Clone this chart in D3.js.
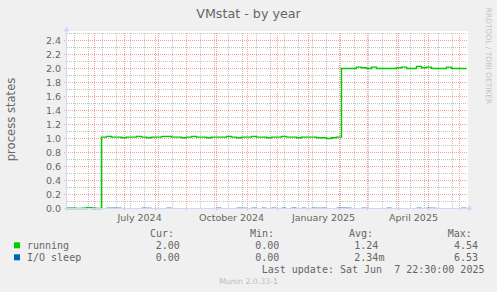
<!DOCTYPE html>
<html>
<head>
<meta charset="utf-8">
<script src="https://cdn.jsdelivr.net/npm/d3@7"></script>
<style>
  body { margin: 0; background: #f0f0f0; }
  svg { display: block; }
  text { font-family: "DejaVu Sans", sans-serif; fill: #666; }
  .mono { font-family: "DejaVu Sans Mono", monospace; font-size: 10px; }
</style>
</head>
<body>
<svg></svg>
<script>
// time range of the yearly graph (400 days up to last update)
const startDate = new Date(Date.UTC(2024, 4, 3, 22, 30));
const endDate = new Date(Date.UTC(2025, 5, 7, 22, 30));
const stepDays = 5;

// running processes, one value every 5 days
const running = [
  0, 0, 0, 0, 0.01, 0, 0,
  1.02, 1.03, 1.02, 1.02, 1.01, 1.02, 1.02, 1.03, 1.02, 1.01,
  1.02, 1.02, 1.03, 1.03, 1.02, 1.02, 1.01, 1.02, 1.03, 1.02,
  1.02, 1.01, 1.02, 1.02, 1.02, 1.03, 1.02, 1.01, 1.02, 1.02,
  1.03, 1.02, 1.02, 1.01, 1.02, 1.02, 1.03, 1.02, 1.02, 1.01,
  1.02, 1.02, 1.02, 1.01, 1.01, 1.00, 1.01, 1.02,
  2.00, 2.00, 2.00, 2.02, 2.01, 2.00, 2.02, 2.00, 2.00, 2.00,
  2.00, 2.01, 2.02, 2.00, 2.00, 2.03, 2.01, 2.02, 2.00, 2.00,
  2.00, 2.02, 2.00, 2.00, 2.00
];

// processes in I/O sleep, same 5-day steps
const ioSleep = [
  0.005, 0.005, 0, 0.004, 0, 0.005, 0, 0, 0.005, 0.006,
  0.005, 0, 0, 0, 0, 0.005, 0.004, 0, 0, 0,
  0.005, 0, 0, 0, 0, 0, 0, 0, 0, 0,
  0.005, 0, 0, 0, 0.005, 0.004, 0, 0.005, 0, 0.005,
  0, 0.005, 0, 0.005, 0, 0.0065, 0, 0.005, 0, 0.005,
  0.004, 0.005, 0, 0, 0.005, 0.006, 0.005, 0, 0, 0.005,
  0, 0, 0, 0, 0.005, 0, 0, 0, 0, 0,
  0.005, 0, 0.005, 0.004, 0, 0, 0, 0, 0, 0.005
];

const yTicks = [0, 0.2, 0.4, 0.6, 0.8, 1.0, 1.2, 1.4, 1.6, 1.8, 2.0, 2.2, 2.4];
const yMinor = [0.1, 0.3, 0.5, 0.7, 0.9, 1.1, 1.3, 1.5, 1.7, 1.9, 2.1, 2.3, 2.5];
const xLabelMonths = ["2024-07-01", "2024-10-01", "2025-01-01", "2025-04-01"];
const xLabels = ["July 2024", "October 2024", "January 2025", "April 2025"];
const firstMinor = "2024-05-12";

const seriesNames = ["running", "I/O sleep"];
const seriesColors = ["#00cc00", "#0066b3"];
const curVals = ["2.00", "0.00"];
const minVals = ["0.00", "0.00"];
const avgVals = ["1.24", "2.34m"];
const maxVals = ["4.54", "6.53"];

const W = 497, H = 292;
const svg = d3.select("svg").attr("width", W).attr("height", H);

const x = d3.scaleUtc().domain([startDate, endDate]).range([66.5, 466.5]);
const y = d3.scaleLinear().domain([0, 2.5]).range([208.5, 33.5]);
const px = v => Math.round(v - 0.5) + 0.5;

// canvas
svg.append("rect").attr("x", 66).attr("y", 31).attr("width", 402).attr("height", 178).attr("fill", "#fff");

// minor grid
const minorDates = d3.utcDay.range(new Date(firstMinor), endDate, 14);
svg.append("g").selectAll("line").data(minorDates).join("line")
  .attr("x1", d => px(x(d))).attr("x2", d => px(x(d)))
  .attr("y1", 33).attr("y2", 208)
  .attr("stroke", "#c4c4c4").attr("stroke-dasharray", "1,1");
svg.append("g").selectAll("line").data(yMinor).join("line")
  .attr("x1", 67).attr("x2", 467)
  .attr("y1", d => px(y(d))).attr("y2", d => px(y(d)))
  .attr("stroke", "#c4c4c4").attr("stroke-dasharray", "1,1");

// major grid
const monthDates = d3.utcMonth.range(startDate, endDate);
svg.append("g").selectAll("line").data(monthDates).join("line")
  .attr("x1", d => px(x(d))).attr("x2", d => px(x(d)))
  .attr("y1", 33).attr("y2", 211)
  .attr("stroke", "#f6a0a0").attr("stroke-dasharray", "1,1");
svg.append("g").selectAll("line").data(yTicks.slice(1)).join("line")
  .attr("x1", 64).attr("x2", 467)
  .attr("y1", d => px(y(d))).attr("y2", d => px(y(d)))
  .attr("stroke", "#f6a0a0").attr("stroke-dasharray", "1,1");

// series
const toPoints = vals => vals.map((v, i) => [d3.utcDay.offset(startDate, i * stepDays), v]).concat([[endDate, vals[vals.length - 1]]]);
const line = d3.line().x(d => x(d[0])).y(d => y(d[1])).curve(d3.curveStepAfter);

[running, ioSleep].forEach((vals, i) => {
  svg.append("path")
    .attr("d", line(toPoints(vals)))
    .attr("fill", "none")
    .attr("stroke", seriesColors[i])
    .attr("stroke-width", i === 0 ? 1.4 : 1);
});

// axes with arrows
const axisCol = "#cfd6f8";
svg.append("line").attr("x1", 66.5).attr("x2", 66.5).attr("y1", 31).attr("y2", 211).attr("stroke", axisCol);
svg.append("line").attr("x1", 64).attr("x2", 469).attr("y1", 208.5).attr("y2", 208.5).attr("stroke", axisCol);
svg.append("path").attr("d", "M63.5,31.5L69.5,31.5L66.5,26.5Z").attr("fill", axisCol);
svg.append("path").attr("d", "M468,205.5L468,211.5L473,208.5Z").attr("fill", axisCol);

// y tick labels
svg.append("g").selectAll("text").data(yTicks).join("text")
  .attr("x", 61).attr("y", d => y(d) + 3.5)
  .attr("text-anchor", "end").style("font-size", "9.5px")
  .text(d3.format(".1f"));

// x labels, centred half a month after the tick
svg.append("g").selectAll("text").data(xLabelMonths).join("text")
  .attr("x", d => x(d3.utcDay.offset(new Date(d), 15)))
  .attr("y", 220.5)
  .attr("text-anchor", "middle").style("font-size", "9.5px")
  .text((d, i) => xLabels[i]);

// title and axis label
svg.append("text").attr("x", 248.5).attr("y", 18).attr("text-anchor", "middle")
  .style("font-size", "12.7px").text("VMstat - by year");
svg.append("text").attr("transform", "translate(15,119.5) rotate(-90)")
  .attr("text-anchor", "middle").style("font-size", "11.6px").text("process states");

// watermark
svg.append("text").attr("transform", "translate(486,56) rotate(90)")
  .attr("text-anchor", "middle").style("font-size", "7.5px").style("fill", "#c4c4c4")
  .text("RRDTOOL / TOBI OETIKER");

// legend
const heads = [["Cur:", 150], ["Min:", 250], ["Avg:", 349], ["Max:", 447.7]];
svg.append("g").selectAll("text").data(heads).join("text")
  .attr("class", "mono").attr("x", d => d[1]).attr("y", 236.5).text(d => d[0]);

const rows = svg.append("g").selectAll("g").data(seriesNames).join("g")
  .attr("transform", (d, i) => `translate(0,${i * 12})`);
rows.append("rect").attr("x", 14).attr("y", 242.3).attr("width", 6).attr("height", 6)
  .attr("fill", (d, i) => seriesColors[i]);
rows.append("text").attr("class", "mono").attr("x", 27).attr("y", 249).text(d => d);
rows.append("text").attr("class", "mono").attr("x", 155.7).attr("y", 249).text((d, i) => curVals[i]);
rows.append("text").attr("class", "mono").attr("x", 255.3).attr("y", 249).text((d, i) => minVals[i]);
rows.append("text").attr("class", "mono").attr("x", 354.3).attr("y", 249).text((d, i) => avgVals[i]);
rows.append("text").attr("class", "mono").attr("x", 454).attr("y", 249).text((d, i) => maxVals[i]);

svg.append("text").attr("class", "mono").attr("x", 261.7).attr("y", 273)
  .text("Last update: Sat Jun  7 22:30:00 2025").style("white-space", "pre");

svg.append("text").attr("x", 248.6).attr("y", 284).attr("text-anchor", "middle")
  .style("font-size", "7.8px").style("fill", "#bbb").text("Munin 2.0.33-1");
</script>
</body>
</html>
